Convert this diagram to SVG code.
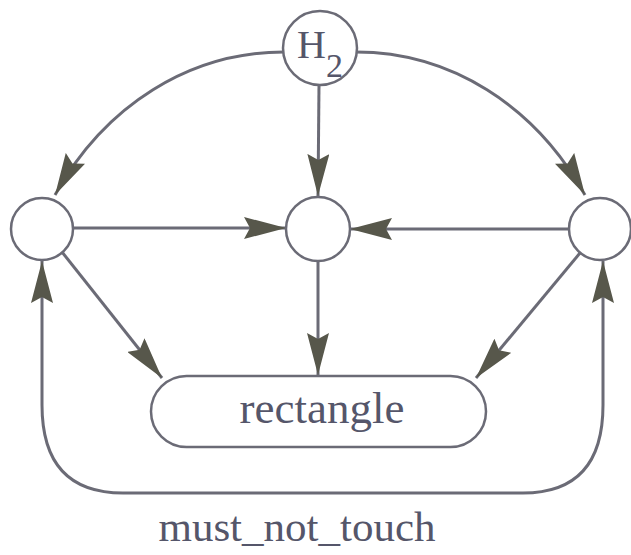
<svg xmlns="http://www.w3.org/2000/svg" width="631" height="555" viewBox="0 0 631 555">
  <style>
    .edge { fill: none; stroke: #6b6b76; stroke-width: 3; }
    .node { fill: #ffffff; stroke: #6b6b76; stroke-width: 2.5; }
    .lbl { font-family: "Liberation Serif", "Times New Roman", serif; fill: #55566a; }
  </style>
  <defs>
    <marker id="arr" viewBox="0 0 42 22" markerWidth="42" markerHeight="22" refX="42" refY="11" orient="auto" markerUnits="userSpaceOnUse">
      <path d="M0,0 L42,11 L0,22 L6,11 z" fill="#57574b"/>
    </marker>
  </defs>
  <rect width="631" height="555" fill="#ffffff"/>
  <g id="connectors">
    <path class="edge" d="M284,52 C190,52 105,105 55,195" marker-end="url(#arr)"/>
    <path class="edge" d="M356,52 C450,52 535,105 585,195" marker-end="url(#arr)"/>
    <path class="edge" d="M319,85 L318,196" marker-end="url(#arr)"/>
    <path class="edge" d="M73,228 L286,228" marker-end="url(#arr)"/>
    <path class="edge" d="M569,229 L350,229" marker-end="url(#arr)"/>
    <path class="edge" d="M318,261 L318,375" marker-end="url(#arr)"/>
    <path class="edge" d="M62,252 L162,378" marker-end="url(#arr)"/>
    <path class="edge" d="M580,253 L476,378" marker-end="url(#arr)"/>
    <path class="edge" d="M123,493 Q42,493 42,405 L42,261" marker-end="url(#arr)"/>
    <path class="edge" d="M123,493 L523,493 Q603,493 603,405 L603,261" marker-end="url(#arr)"/>
  </g>
  <g id="h2">
    <circle class="node" cx="320" cy="48" r="37"/>
    <text class="lbl" x="297" y="58" font-size="40">H</text>
    <text class="lbl" x="326" y="77" font-size="34">2</text>
  </g>
  <g id="left">
    <circle class="node" cx="42" cy="229" r="31"/>
  </g>
  <g id="middle">
    <circle class="node" cx="318" cy="229" r="32"/>
  </g>
  <g id="right">
    <circle class="node" cx="600" cy="229" r="31"/>
  </g>
  <g id="rectangle">
    <rect class="node" x="151" y="376" width="335" height="71" rx="35.5"/>
    <text class="lbl" x="322" y="423" font-size="45" text-anchor="middle">rectangle</text>
  </g>
  <text class="lbl" x="297" y="541" font-size="43" text-anchor="middle">must_not_touch</text>
</svg>
